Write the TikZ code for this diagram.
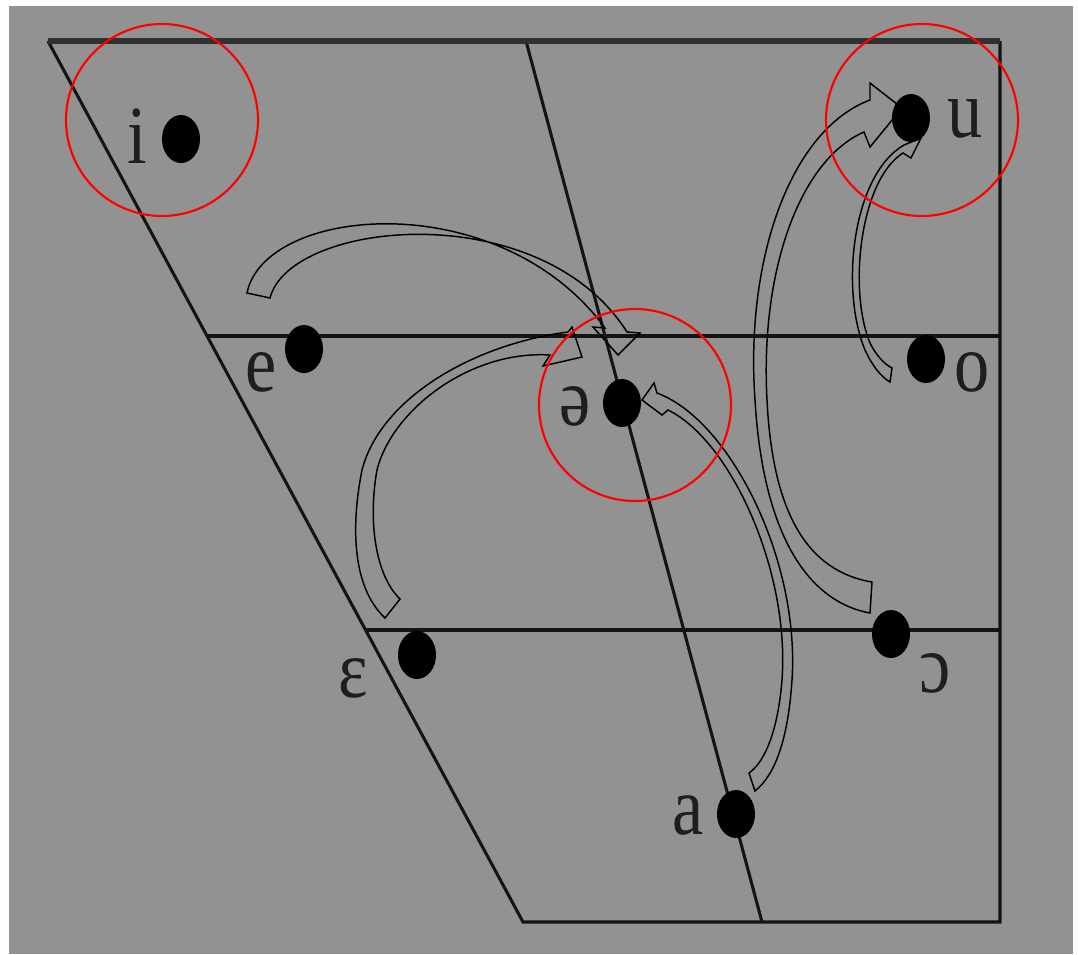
\documentclass[tikz,border=0pt]{standalone}
\usepackage{fontspec}
\usepackage{graphicx}
\setmainfont{Liberation Serif}
\usetikzlibrary{shapes.geometric}
\definecolor{bg}{RGB}{146,146,146}
\definecolor{ln}{RGB}{20,20,20}
\definecolor{topln}{RGB}{48,48,48}
\definecolor{txt}{RGB}{30,30,30}
\newcommand{\vw}[1]{\scalebox{0.85}[1]{#1}}
\begin{document}
\begin{tikzpicture}[x=0.75pt,y=-0.75pt,
  gridline/.style={draw=ln,line width=2.3pt,line join=miter},
  dot/.style={ellipse,fill=black,inner sep=0pt,minimum width=28.5pt,minimum height=36pt},
  vowel/.style={anchor=base,inner sep=0pt,font=\fontsize{62}{62}\selectfont,text=txt},
  ring/.style={circle,draw=red,line width=1.6pt,minimum size=144pt,inner sep=0pt},
  barrow/.style={draw=black,line width=1.1pt,line join=miter}]
\useasboundingbox (0,0) rectangle (1078,954);
\fill[white] (0,0) rectangle (1078,954);
\fill[bg] (9,6) rectangle (1073,954);
% frame coordinates
\coordinate (TL) at (48,41);
\coordinate (TR) at (1000,41);
\coordinate (BR) at (1000,922);
\coordinate (BL) at (523,922);
\coordinate (MT) at (526,41);
\coordinate (MB) at (762,922);
\coordinate (H1L) at (207,336);
\coordinate (H1R) at (1000,336);
\coordinate (H2L) at (366,630);
\coordinate (H2R) at (1000,630);
\draw[gridline] (TR) -- (BR) -- (BL) -- (TL);
\draw[gridline] (MT) -- (MB);
\draw[gridline] (H1L) -- (H1R);
\draw[gridline] (H2L) -- (H2R);
\draw[draw=topln,line width=3.8pt] (TL) -- (TR);
% block arrows
\draw[barrow] (247,293) .. controls (265,205) and (500,185) .. (605,328)
  -- (593,327) -- (618,355) -- (640,333) -- (627,332)
  .. controls (540,195) and (290,220) .. (270,298) -- cycle;
\draw[barrow] (385,618) .. controls (350,585) and (352,520) .. (362,470)
  .. controls (380,400) and (470,345) .. (568,332)
  -- (572,327) -- (582,357) -- (543,366) -- (550,355)
  .. controls (470,350) and (392,410) .. (377,470)
  .. controls (368,520) and (375,575) .. (400,599) -- cycle;
\draw[barrow] (755,791) .. controls (775,775) and (788,740) .. (792,680)
  .. controls (800,560) and (730,420) .. (657,393)
  -- (654,383) -- (642,400) -- (662,415) -- (668,410)
  .. controls (730,440) and (790,570) .. (782,680)
  .. controls (778,730) and (765,762) .. (749,773) -- cycle;
\draw[barrow] (870,613) .. controls (800,600) and (762,520) .. (755,400)
  .. controls (745,260) and (790,130) .. (870,100)
  -- (870,83) -- (902,108) -- (870,147) -- (864,132)
  .. controls (800,160) and (760,270) .. (767,400)
  .. controls (772,500) and (800,570) .. (872,582) -- cycle;
\draw[barrow] (890,382) .. controls (880,376) and (872,365) .. (865,350)
  .. controls (840,290) and (852,175) .. (904,145)
  -- (921,138) -- (911,158) -- (903,153)
  .. controls (860,180) and (848,290) .. (870,343)
  .. controls (876,355) and (884,364) .. (892,368) -- cycle;
% dots
\node[dot] (di) at (181,139) {};
\node[dot] (du) at (911,118) {};
\node[dot] (de) at (304,349) {};
\node[dot] (dschwa) at (622,403) {};
\node[dot] (do) at (926,359) {};
\node[dot] (depsilon) at (417,655) {};
\node[dot] (dopeno) at (891,634) {};
\node[dot] (da) at (736,814) {};
% labels
\node[vowel] (li) at (137,163) {\vw{i}};
\node[vowel] (lu) at (965,137) {\vw{u}};
\node[vowel] (le) at (261,391) {\vw{e}};
\node[vowel] (lschwa) at (575,425) {\vw{ə}};
\node[vowel] (lo) at (972,391) {\vw{o}};
\node[vowel] (lepsilon) at (353,697) {\vw{ɛ}};
\node[vowel] (lopeno) at (935,692) {\vw{ɔ}};
\node[vowel] (la) at (688,834) {\vw{a}};
% red rings
\node[ring] (ri) at (162,120) {};
\node[ring] (ru) at (922,120) {};
\node[ring] (rschwa) at (635,405) {};
\end{tikzpicture}
\end{document}
